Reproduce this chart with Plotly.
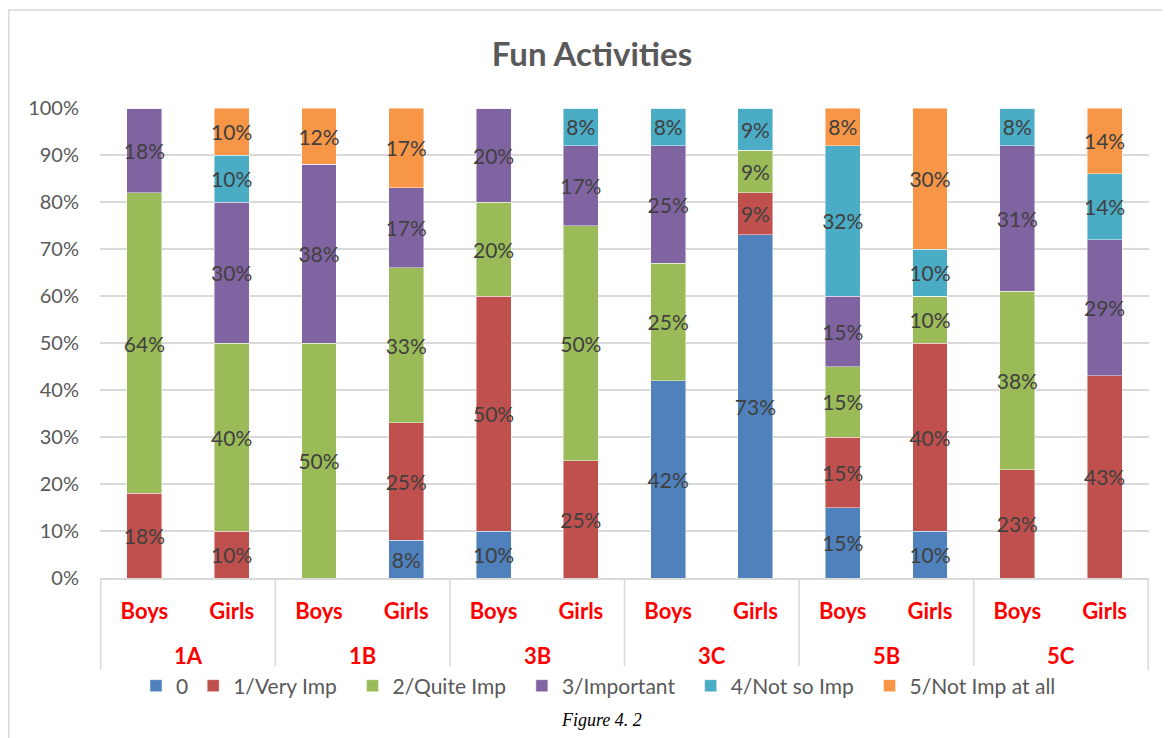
import plotly.graph_objects as go

classes = ["1A", "1A", "1B", "1B", "3B", "3B", "3C", "3C", "5B", "5B", "5C", "5C"]
genders = ["Boys", "Girls"] * 6

series_names = ["0", "1/Very Imp", "2/Quite Imp", "3/Important", "4/Not so Imp", "5/Not Imp at all"]
s0 = [0, 0, 0, 8, 10, 0, 42, 73, 15, 10, 0, 0]
s1 = [18, 10, 0, 25, 50, 25, 0, 9, 15, 40, 23, 43]
s2 = [64, 40, 50, 33, 20, 50, 25, 9, 15, 10, 38, 0]
s3 = [18, 30, 38, 17, 20, 17, 25, 0, 15, 0, 31, 29]
s4 = [0, 10, 0, 0, 0, 8, 8, 9, 32, 10, 8, 14]
s5 = [0, 10, 12, 17, 0, 0, 0, 0, 8, 30, 0, 14]
series_values = [s0, s1, s2, s3, s4, s5]
colors = ["#4F81BD", "#C0504D", "#9BBB59", "#8064A2", "#4BACC6", "#F79646"]

yticks = [0, 10, 20, 30, 40, 50, 60, 70, 80, 90, 100]

FONT = "Lato"
CAT_FONT = dict(family=FONT, size=22, color="#FF0000", weight="bold")

# unique category keys (class + gender); the axis shows the gender as tick text
cats = [f"{c} {g}" for c, g in zip(classes, genders)]

# page body has an 8px margin: figure is drawn 8px in from the window edge
W, H = 1162, 730
L, T, R, B = 92, 100, 21, 160
PW, PH = W - L - R, H - T - B

fig = go.Figure()
for name, vals, col in zip(series_names, series_values, colors):
    pad = "" if len(name) < 3 else "\u00a0\u00a0"
    fig.add_trace(go.Bar(
        x=cats,
        y=vals,
        name=name + pad,
        marker=dict(color=col, line=dict(color="rgba(255,255,255,0.6)", width=0.75)),
        text=[f"{v}%" if v else "" for v in vals],
        textposition="inside",
        insidetextanchor="middle",
        textangle=0,
        textfont=dict(family=FONT, size=21, color="#404040"),
        hoverinfo="skip",
    ))

# group (class) labels and dividers of the two-level category axis
groups = []
for i, c in enumerate(classes):
    if not groups or groups[-1][0] != c:
        groups.append([c, i, i])
    else:
        groups[-1][2] = i

shapes = [dict(type="rect", xref="paper", yref="paper",
               x0=(0.75 - L) / PW, x1=1.2, y0=-0.6, y1=(PH + T - 2) / PH,
               line=dict(color="#d9d9d9", width=1.5), layer="below")]
annotations = []
DIV_DEPTH = -92 / PH
GROUP_Y = -77 / PH
bounds = sorted({g[1] - 0.5 for g in groups} | {g[2] + 0.5 for g in groups})
for b in bounds:
    shapes.append(dict(type="line", xref="x", yref="paper", x0=b, x1=b, y0=0, y1=DIV_DEPTH,
                       line=dict(color="#d9d9d9", width=1.5)))
for name, i0, i1 in groups:
    annotations.append(dict(text=name, xref="x", yref="paper", x=(i0 + i1) / 2, y=GROUP_Y,
                            xanchor="center", yanchor="middle", showarrow=False,
                            font=CAT_FONT))
annotations.append(dict(
    text="<i>Figure 4. 2</i>", xref="paper", yref="paper",
    x=(593 - L) / PW, y=(PH + T - 712) / PH, xanchor="center", yanchor="middle",
    showarrow=False,
    font=dict(family="Liberation Serif", size=18, color="#000000"),
))

fig.update_layout(
    barmode="stack",
    bargap=0.6,
    width=W,
    height=H,
    paper_bgcolor="white",
    plot_bgcolor="white",
    margin=dict(l=L, r=R, t=T, b=B),
    uniformtext=dict(minsize=21, mode="show"),
    title=dict(
        text="<b>Fun Activities</b>",
        x=584 / W, xref="container", xanchor="center",
        y=1 - 46 / H, yref="container", yanchor="middle",
        font=dict(family=FONT, size=33, color="#595959"),
    ),
    legend=dict(
        orientation="h",
        x=596 / W, xref="container", xanchor="center",
        y=1 - 678 / H, yref="container", yanchor="middle",
        font=dict(family=FONT, size=21, color="#595959"),
        traceorder="normal",
    ),
    showlegend=True,
    shapes=shapes,
    annotations=annotations,
)

fig.update_yaxes(
    range=[0, 100],
    tickvals=yticks,
    ticktext=[f"{v}%" for v in yticks],
    showgrid=True, gridcolor="#d9d9d9", gridwidth=1.5,
    zeroline=False,
    tickfont=dict(family=FONT, size=20, color="#595959"),
    ticks="", ticklen=0,
    ticklabelstandoff=20,
    fixedrange=True,
)
fig.update_xaxes(
    type="category",
    tickvals=cats,
    ticktext=genders,
    showline=True, linecolor="#d9d9d9", linewidth=1.5,
    tickfont=CAT_FONT,
    ticks="",
    ticklabelstandoff=13,
    fixedrange=True,
)

fig.write_html("out.html")
